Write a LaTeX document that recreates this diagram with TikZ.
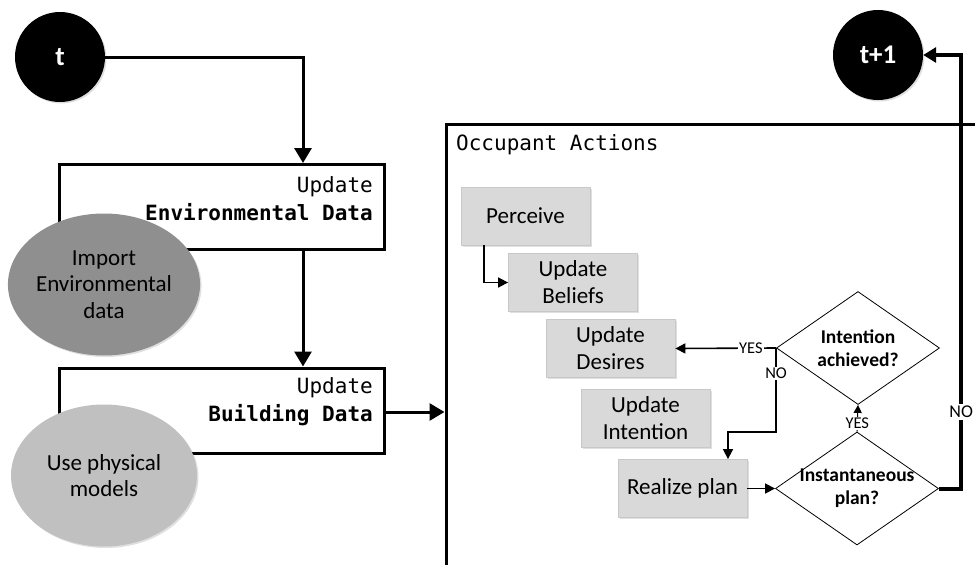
\documentclass[tikz,border=0pt]{standalone}
\usepackage{fontspec}
\setmainfont{Carlito}
\setmonofont{DejaVu Sans Mono}
\usetikzlibrary{shapes.geometric, arrows.meta, shadows}
\definecolor{boxgray}{HTML}{D9D9D9}
\definecolor{boxedge}{HTML}{C8C8C8}
\definecolor{ellA}{HTML}{8F8F8F}
\definecolor{ellB}{HTML}{C0C0C0}
\begin{document}
\begin{tikzpicture}[x=1pt,y=-1pt,
  softshadow/.style={drop shadow={opacity=0.25, shadow xshift=1.5pt, shadow yshift=-1.5pt}},
  timecircle/.style={circle, fill=black, minimum size=90pt, inner sep=0pt, text=white,
    font=\bfseries\fontsize{27}{30}\selectfont, softshadow},
  databox/.style={draw, line width=3pt, minimum width=325pt, minimum height=85pt, inner sep=0pt, fill=white},
  monotext/.style={font=\ttfamily\fontsize{21}{28}\selectfont, inner sep=0pt, align=right},
  ellbase/.style={ellipse, minimum width=186pt, minimum height=142pt, inner sep=0pt, align=center,
    font=\fontsize{23}{26.5}\selectfont, softshadow},
  stepbox/.style={rectangle, fill=boxgray, draw=boxedge, line width=0.8pt, minimum width=129pt,
    minimum height=58pt, inner sep=0pt, align=center, font=\fontsize{23}{27}\selectfont, softshadow},
  decision/.style={diamond, draw, line width=0.8pt, fill=white, minimum width=163pt, minimum height=113pt,
    aspect=1.44, inner sep=0pt},
  dectext/.style={align=center, inner sep=0pt, font=\bfseries\fontsize{19.5}{23}\selectfont},
  bigarrow/.style={line width=3pt, -{Triangle[length=15pt,width=17pt]}},
  smallarrow/.style={line width=1.6pt, -{Triangle[length=10pt,width=10pt]}},
  tinyarrow/.style={line width=1pt, -{Triangle[length=8pt,width=8pt]}},
  noarrow/.style={line width=4pt, -{Triangle[length=13pt,width=15pt]}},
  lbl/.style={fill=white, inner sep=1pt, font=\fontsize{16.5}{16.5}\selectfont},
  biglbl/.style={fill=white, inner sep=2pt, font=\fontsize{18}{18}\selectfont}
]
\useasboundingbox (0,0) rectangle (975,565);
\clip (0,0) rectangle (975,565);

% time circles
\node[timecircle] (t) at (60,57) {t};
\node[timecircle] (tp) at (878,55) {t+1};

% data boxes
\node[databox] (env) at (222,207) {};
\node[monotext, anchor=east] (envt) at (373,199) {Update\\\textbf{Environmental Data}};
\node[databox] (bld) at (222,410.5) {};
\node[monotext, anchor=east] (bldt) at (373,402) {Update\\\textbf{Building Data}};

% ellipses
\node[ellbase, fill=ellA] (imp) at (104,284.5) {Import\\Environmental\\data};
\node[ellbase, fill=ellB] (phys) at (104,475.5) {Use physical\\models};

% occupant actions box
\node[draw, line width=3pt, minimum width=560pt, minimum height=480pt, inner sep=0pt, anchor=north west] (occ) at (444.5,122.5) {};
\node[monotext, anchor=west] (occt) at (456,145) {Occupant Actions};

% steps
\node[stepbox] (perc) at (525.5,216) {Perceive};
\node[stepbox] (bel) at (573,282.5) {Update\\Beliefs};
\node[stepbox] (des) at (610.5,348.5) {Update\\Desires};
\node[stepbox] (intn) at (645.5,418) {Update\\Intention};
\node[stepbox] (rp) at (682.5,488.5) {Realize plan};

% decisions
\node[decision, label={[dectext]center:Intention\\achieved?}] (ia) at (858,348) {};
\node[decision, label={[dectext]center:Instantaneous\\plan?}] (ip) at (857,488.5) {};

% main connectors
\draw[bigarrow] (t.east) -| ([xshift=81pt]env.north);
\draw[bigarrow] ([xshift=81pt]env.south) -- ([xshift=81pt]bld.north);
\draw[bigarrow] ([yshift=-1.5pt]bld.east) -- ([yshift=-1.5pt]bld.east -| occ.west);

% inner connectors
\draw[smallarrow] ([xshift=-41.5pt]perc.south) |- (bel.west);
\draw[smallarrow] (ia.west) -- (des.east) node[lbl, pos=0.25] {YES};
\draw[smallarrow] (ia.west) -- ++(0,84) node[lbl, pos=0.3] {NO} -| ([xshift=45.5pt]rp.north);
\draw[smallarrow] (rp.east) -- (ip.west);
\draw[tinyarrow] (ip.north) -- (ia.south) node[lbl, pos=0.3] {YES};
\draw[noarrow] (ip.east) -| ([xshift=38pt]tp.east) node[biglbl, pos=0.588] {NO} -- (tp.east);
\end{tikzpicture}
\end{document}
